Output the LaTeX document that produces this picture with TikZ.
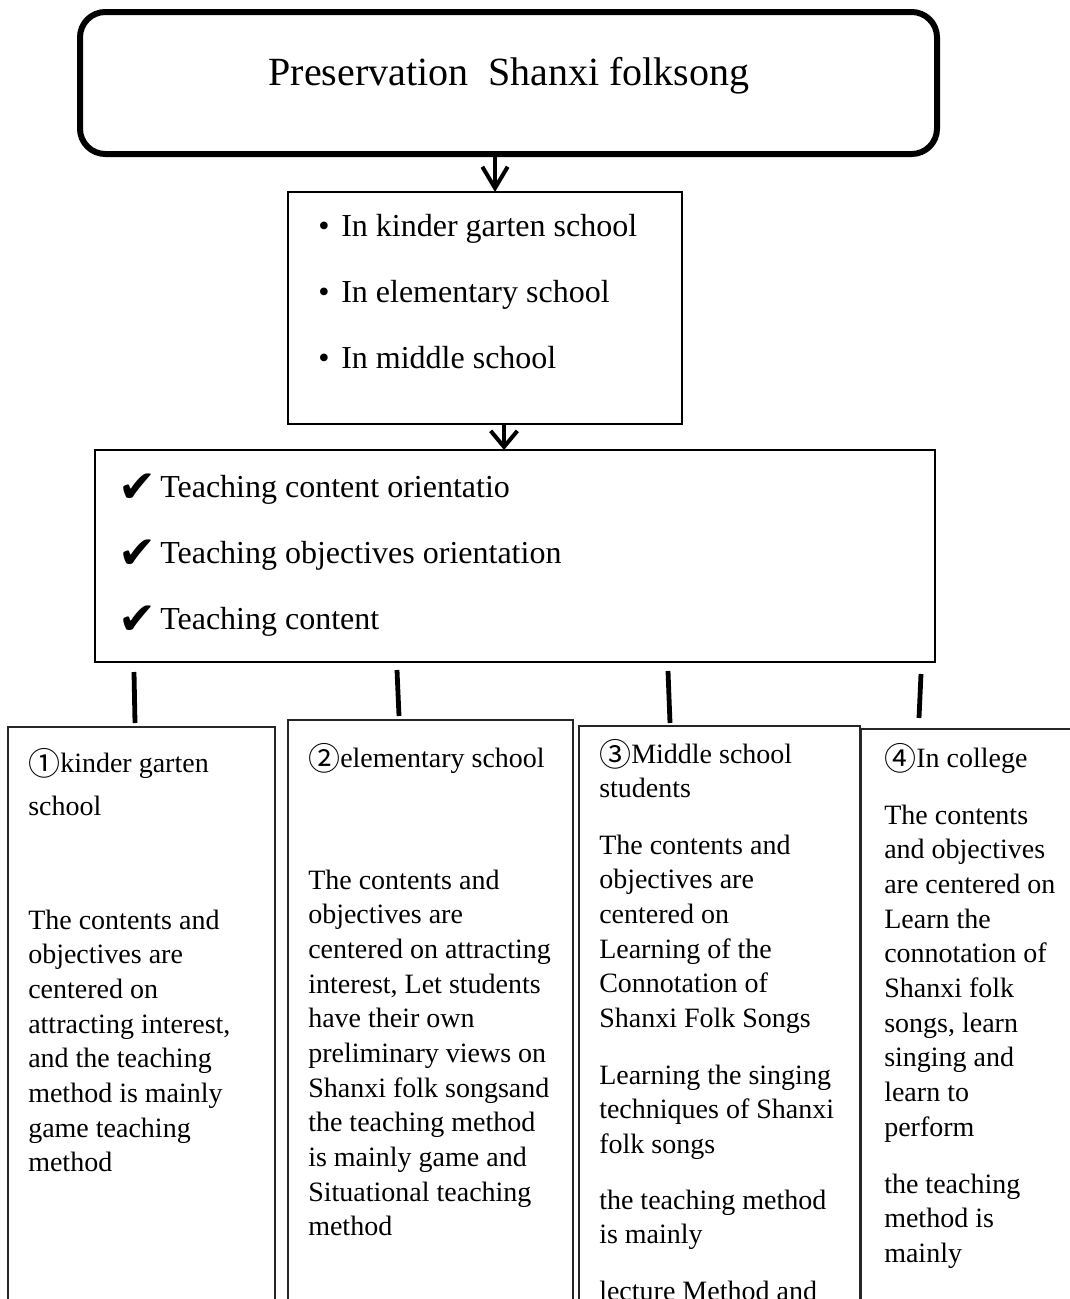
\documentclass[tikz,border=0pt]{standalone}
\usepackage{fontspec}
\setmainfont{Liberation Serif}
\newfontfamily\cjkfont{Noto Sans CJK SC}
\newfontfamily\symfont{DejaVu Sans}
\usetikzlibrary{arrows.meta}
\tikzset{
  titlebox/.style={draw, line width=4.5pt, rounded corners=19pt, anchor=north west, inner sep=0pt, outer sep=0pt},
  listbox/.style={draw, line width=1.4pt, anchor=north west, inner sep=0pt, outer sep=0pt},
  colbox/.style={draw=black!85, line width=1.1pt, anchor=north west, inner sep=0pt, outer sep=0pt},
  arrowA/.style={line width=3pt, -{Straight Barb[length=16pt,width=19pt,line width=3pt]}},
  arrowB/.style={line width=3pt, -{Straight Barb[length=12pt,width=20pt,line width=3pt]}},
  stemline/.style={line width=3.6pt},
  titletext/.style={anchor=base, inner sep=0pt, font=\fontsize{30}{36}\selectfont},
  bigtext/.style={anchor=base west, inner sep=0pt, font=\fontsize{24}{29}\selectfont},
  bullettext/.style={anchor=base west, inner sep=0pt, font=\fontsize{24}{29}\selectfont},
  checktext/.style={anchor=base west, inner sep=0pt, font=\symfont\fontsize{34}{36}\selectfont},
  coltext/.style={anchor=base west, inner sep=0pt, font=\fontsize{21}{26}\selectfont},
}
\newcommand{\lines}[1]{\parbox[t]{200pt}{\raggedright #1}}
\newcommand{\circd}[1]{{\cjkfont\fontsize{24}{24}\selectfont\raisebox{-2.6pt}{#1}}}
\begin{document}
\begin{tikzpicture}[x=0.75pt,y=-0.75pt]
\path[use as bounding box] (0,0) rectangle (1070,1299);
\clip (0,0) rectangle (1070,1299);

% boxes
\node[titlebox, minimum width=642.75pt, minimum height=106.5pt] (title) at (80,12) {};
\node[listbox, minimum width=295.5pt, minimum height=174pt] (levels) at (288,192) {};
\node[listbox, minimum width=630pt, minimum height=159pt] (aspects) at (95,450) {};
\node[colbox, minimum width=200.25pt, minimum height=450pt] (colA) at (8,727) {};
\node[colbox, minimum width=213.75pt, minimum height=450pt] (colB) at (288,720) {};
\node[colbox, minimum width=210.75pt, minimum height=450pt] (colC) at (579,726) {};
\node[colbox, minimum width=180pt, minimum height=450pt] (colD) at (861,729) {};

% title
\node[titletext] (titleT) at (509,85) {Preservation\ \ Shanxi folksong};

% arrows
\coordinate (a1) at (495,0);
\coordinate (a2) at (504,0);
\draw[arrowA] (title.south -| a1) -- (levels.north -| a1);
\draw[arrowB] (levels.south -| a2) -- (aspects.north -| a2);

% levels
\node[bullettext] (b1) at (318,236) {•};
\node[bullettext] (b2) at (318,302) {•};
\node[bullettext] (b3) at (318,368) {•};
\node[bigtext] (l1) at (341,236) {In kinder garten school};
\node[bigtext] (l2) at (341,302) {In elementary school};
\node[bigtext] (l3) at (341,368) {In middle school};

% aspects
\node[checktext] (c1) at (118,502) {✔};
\node[checktext] (c2) at (118,568) {✔};
\node[checktext] (c3) at (118,634) {✔};
\node[bigtext] (t1) at (160,497) {Teaching content orientatio};
\node[bigtext] (t2) at (160,563) {Teaching objectives orientation};
\node[bigtext] (t3) at (160,629) {Teaching content};

% stems
\coordinate (s1a) at (134,672); \coordinate (s1b) at (135,723);
\coordinate (s2a) at (397,670); \coordinate (s2b) at (399,716);
\coordinate (s3a) at (668,671); \coordinate (s3b) at (670,723);
\coordinate (s4a) at (921,674); \coordinate (s4b) at (919,718);
\draw[stemline] (s1a) -- (s1b);
\draw[stemline] (s2a) -- (s2b);
\draw[stemline] (s3a) -- (s3b);
\draw[stemline] (s4a) -- (s4b);

% column A
\node[coltext] (hA) at (28,772) {\lines{\circd{①}kinder garten\\[6.5pt]school}};
\node[coltext] (bA) at (28,929) {\lines{The contents and\\objectives are\\centered on\\attracting interest,\\and the teaching\\method is mainly\\game teaching\\method}};

% column B
\node[coltext] (hB) at (308,767) {\lines{\circd{②}elementary school}};
\node[coltext] (bB) at (308,889) {\lines{The contents and\\objectives are\\centered on attracting\\interest, Let students\\have their own\\preliminary views on\\Shanxi folk songsand\\the teaching method\\is mainly game and\\Situational teaching\\method}};

% column C
\node[coltext] (hC) at (599,763) {\lines{\circd{③}Middle school\\students}};
\node[coltext] (bC1) at (599,854) {\lines{The contents and\\objectives are\\centered on\\Learning of the\\Connotation of\\Shanxi Folk Songs}};
\node[coltext] (bC2) at (599,1084) {\lines{Learning the singing\\techniques of Shanxi\\folk songs}};
\node[coltext] (bC3) at (599,1209) {\lines{the teaching method\\is mainly}};
\node[coltext] (bC4) at (599,1300) {\lines{lecture Method and}};

% column D
\node[coltext] (hD) at (884,767) {\lines{\circd{④}In college}};
\node[coltext] (bD1) at (884,824) {\lines{The contents\\and objectives\\are centered on\\Learn the\\connotation of\\Shanxi folk\\songs, learn\\singing and\\learn to\\perform}};
\node[coltext] (bD2) at (884,1193) {\lines{the teaching\\method is\\mainly}};
\end{tikzpicture}
\end{document}
